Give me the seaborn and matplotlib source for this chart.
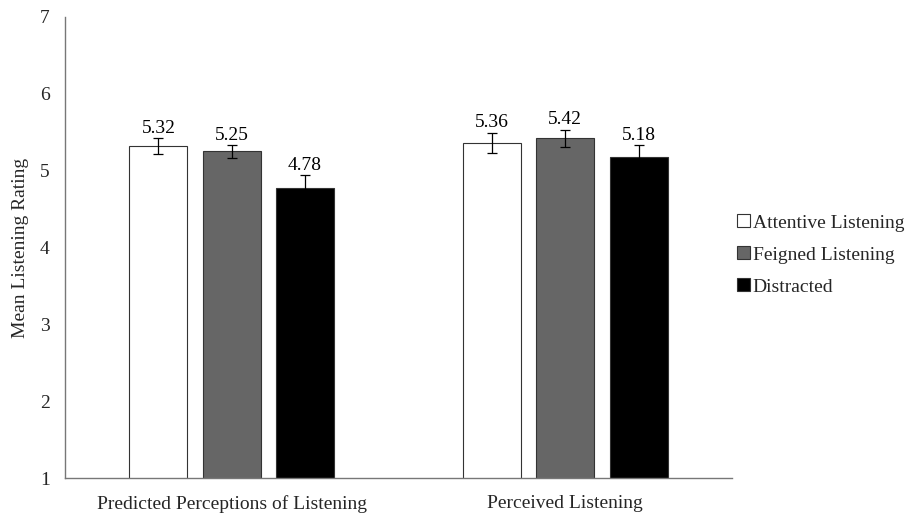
import matplotlib
matplotlib.use("Agg")
import matplotlib.pyplot as plt
import seaborn as sns
import pandas as pd
import numpy as np
from matplotlib.patches import Patch

categories = ["Predicted Perceptions of Listening", "Perceived Listening"]
conditions = ["Attentive Listening", "Feigned Listening", "Distracted"]
attentive = [5.32, 5.36]
feigned = [5.25, 5.42]
distracted = [4.78, 5.18]
attentive_err = [0.10, 0.13]
feigned_err = [0.08, 0.11]
distracted_err = [0.16, 0.15]
yticks = [1, 2, 3, 4, 5, 6, 7]

colors = ["#ffffff", "#666666", "#000000"]
FS = 14

sns.set_theme(style="white")
plt.rcParams["font.family"] = ["Liberation Serif", "DejaVu Serif"]

rows = []
for cond, vals, errs in zip(conditions, [attentive, feigned, distracted],
                            [attentive_err, feigned_err, distracted_err]):
    for cat, v, e in zip(categories, vals, errs):
        rows.append({"category": cat, "condition": cond, "mean": v, "err": e})
df = pd.DataFrame(rows)

fig = plt.figure(figsize=(9.07, 5.14), dpi=100)
ax = fig.add_axes([0.0717, 0.070, 0.7353, 0.897])

sns.barplot(data=df, x="category", y="mean", hue="condition",
            order=categories, hue_order=conditions, palette=colors,
            width=0.66, gap=0.21, errorbar=None, edgecolor="#333333",
            linewidth=0.8, legend=False, ax=ax)

# error bars and value labels on top of each bar
for cont, cond in zip(ax.containers, conditions):
    sub = df[df["condition"] == cond].set_index("category").loc[categories]
    xs = [p.get_x() + p.get_width() / 2 for p in cont.patches]
    ax.errorbar(xs, sub["mean"], yerr=sub["err"], fmt="none",
                ecolor="black", elinewidth=0.9, capsize=3.5, capthick=0.9)
    for x, m, e in zip(xs, sub["mean"], sub["err"]):
        ax.text(x, m + e + 0.02, f"{m:.2f}", ha="center", va="bottom",
                fontsize=FS, color="black")

ax.set_ylim(1, 7)
ax.set_xlim(-0.5, 1.5)
ax.set_yticks(yticks)
ax.set_yticklabels([str(t) for t in yticks], fontsize=FS)
ax.tick_params(axis="y", length=0, pad=11)
ax.tick_params(axis="x", length=0, labelsize=FS, pad=12)
ax.set_xlabel("")
ax.set_ylabel("Mean Listening Rating", fontsize=FS, labelpad=8)

for side in ["top", "right"]:
    ax.spines[side].set_visible(False)
for side in ["left", "bottom"]:
    ax.spines[side].set_color("#777777")
    ax.spines[side].set_linewidth(1.0)

handles = [Patch(facecolor=c, edgecolor="#333333", linewidth=0.8) for c in colors]
fig.legend(handles, conditions, loc="center left",
           bbox_to_anchor=(0.804, 0.504), frameon=False, fontsize=FS,
           handlelength=0.65, handleheight=0.65, handletextpad=0.15,
           labelspacing=0.75, borderaxespad=0.0)

fig.savefig("out.png", dpi=100)
